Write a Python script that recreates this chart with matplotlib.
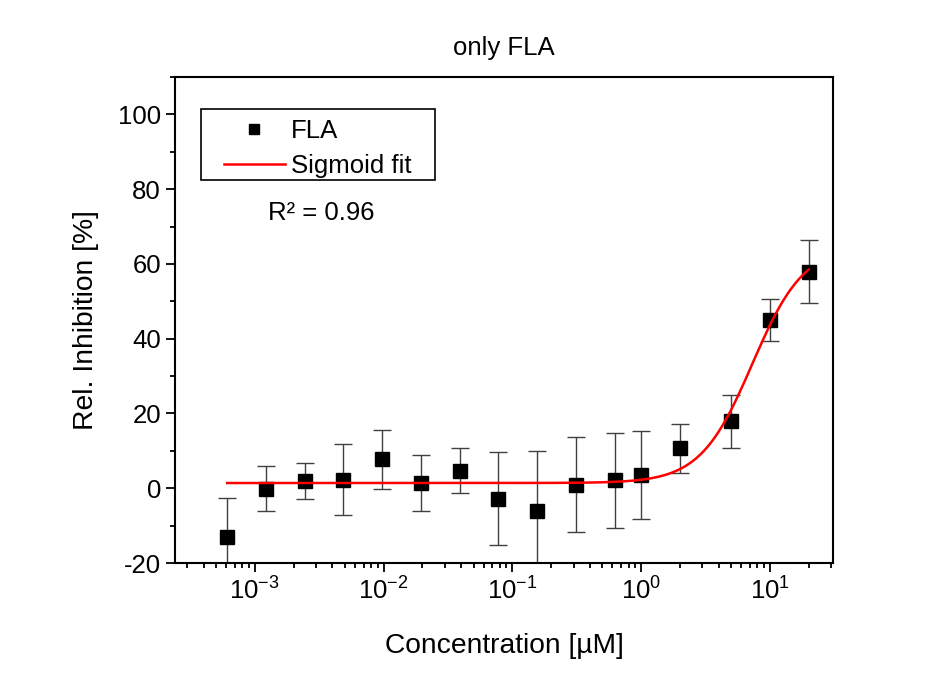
import matplotlib
matplotlib.use("Agg")
import matplotlib.pyplot as plt
import matplotlib.ticker as mticker
from matplotlib.patches import Rectangle
import numpy as np

plt.rcParams['font.family'] = ['Liberation Sans', 'DejaVu Sans']
plt.rcParams['mathtext.default'] = 'regular'
plt.rcParams['axes.unicode_minus'] = False

# data
conc = [0.00061, 0.00122, 0.00244, 0.00488, 0.00977, 0.0195, 0.039, 0.078,
        0.156, 0.3125, 0.625, 1.0, 2.0, 5.0, 10.0, 20.0]
inhib = [-13.0, -0.1, 1.9, 2.3, 7.8, 1.3, 4.7, -2.8,
         -6.0, 0.9, 2.1, 3.5, 10.7, 17.9, 45.0, 57.9]
err = [10.5, 6.1, 4.8, 9.5, 7.9, 7.5, 6.0, 12.5,
       16.0, 12.7, 12.7, 11.8, 6.5, 7.0, 5.6, 8.4]

# sigmoid (logistic) fit parameters
A1, A2, x0, p = 1.4, 65.0, 7.3, 2.15
r2_text = "R² = 0.96"

fig = plt.figure(figsize=(9.51, 6.73), dpi=100)
ax = fig.add_axes([0.184, 0.1634, 0.692, 0.7222])

ax.errorbar(conc, inhib, yerr=err, fmt='none', ecolor='#404040',
            elinewidth=1.0, capsize=6.5, capthick=1.0, zorder=2)
ax.plot(conc, inhib, 's', color='black', markersize=9.5, label='FLA', zorder=3)

xfit = np.logspace(np.log10(conc[0]), np.log10(conc[-1]), 300)
yfit = A2 + (A1 - A2) / (1 + (xfit / x0) ** p)
ax.plot(xfit, yfit, color='red', lw=1.8, label='Sigmoid fit', zorder=4)

ax.set_xscale('log')
ax.set_xlim(2.4e-4, 31)
ax.set_ylim(-20, 110)
ax.set_yticks([-20, 0, 20, 40, 60, 80, 100])
ax.yaxis.set_minor_locator(mticker.MultipleLocator(10))
ax.xaxis.set_major_locator(mticker.LogLocator(base=10, numticks=10))
ax.xaxis.set_minor_locator(mticker.LogLocator(base=10, subs=np.arange(2, 10), numticks=10))
ax.xaxis.set_major_formatter(mticker.LogFormatterMathtext())
ax.xaxis.set_minor_formatter(mticker.NullFormatter())

ax.tick_params(which='both', direction='out', top=False, right=False,
               labelsize=18.5, width=1.3)
ax.tick_params(which='major', length=6.5)
ax.tick_params(which='minor', length=3.3)
for s in ax.spines.values():
    s.set_linewidth(1.5)

ax.set_xlabel('Concentration [µM]', fontsize=20.3, labelpad=21)
ax.set_ylabel('Rel. Inhibition [%]', fontsize=20.3, labelpad=14)
ax.set_title('only FLA', fontsize=18.5, pad=16)

# legend without its own frame, box drawn separately to get the wide padding
leg = ax.legend(loc='upper left', bbox_to_anchor=(0.0745, 0.914), fontsize=18.5,
                frameon=False, handlelength=2.37, borderpad=0, labelspacing=0.42,
                handletextpad=0.25, borderaxespad=0, markerscale=0.8)
ax.add_patch(Rectangle((0.0395, 0.788), 0.3555, 0.146, transform=ax.transAxes,
                       fill=False, edgecolor='black', lw=1.2, zorder=5))

ax.text(0.141, 0.72, r2_text, transform=ax.transAxes, fontsize=18.5,
        va='center', ha='left')

fig.savefig('out.png', dpi=100)
